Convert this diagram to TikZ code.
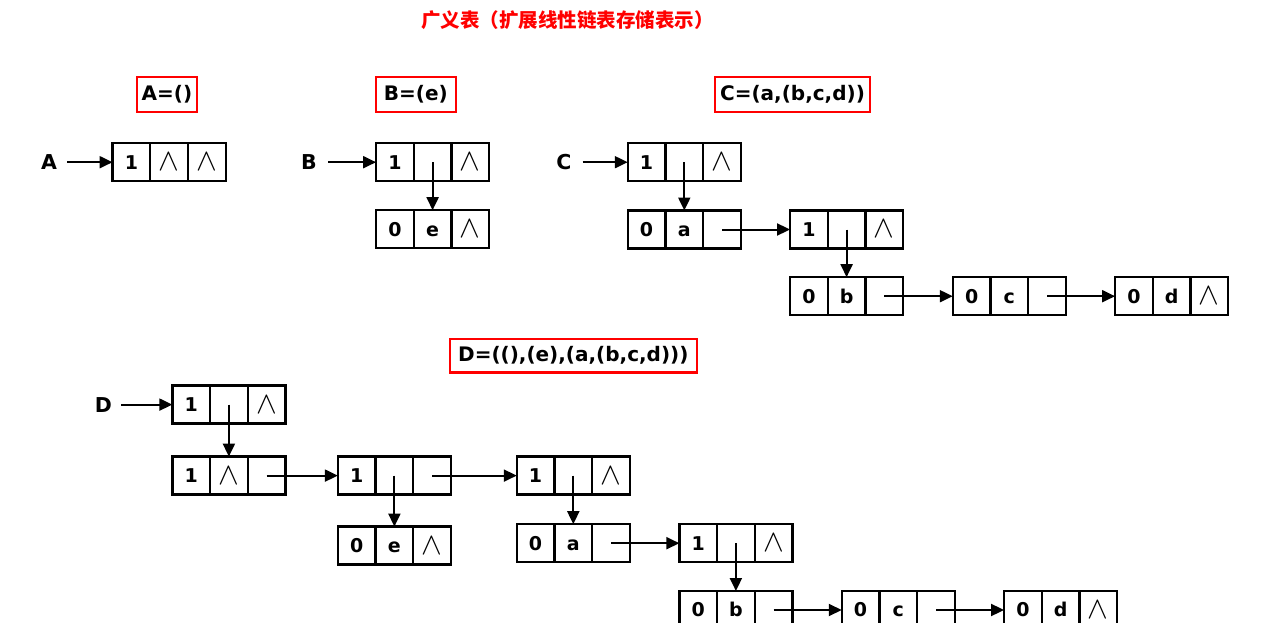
\documentclass[tikz,border=0pt]{standalone}
\usepackage{graphicx}
\usepackage{fontspec}
\setmainfont{DejaVu Sans}
\newfontfamily\cjkfont{Noto Sans CJK SC}
\usetikzlibrary{arrows.meta}
\newcommand{\nilsym}{\raisebox{-1.5pt}{\scalebox{1.25}{\fontsize{24.88}{24.88}\selectfont$\wedge$}}}
\newcommand{\lnode}[6]{%
  \node[cell] (#1a) at (#2,#3) {#4};
  \node[cell,anchor=west] (#1b) at (#1a.east) {#5};
  \node[cell,anchor=west] (#1c) at (#1b.east) {#6};}
\begin{document}
\begin{tikzpicture}[x=1pt,y=-1pt,
  cell/.style={draw,line width=2.3pt,minimum width=37.7pt,minimum height=38pt,
    inner sep=0pt,outer sep=0pt,font=\bfseries\fontsize{19}{19}\selectfont,
    text height=13.8pt,text depth=0pt},
  arr/.style={line width=2pt,-{Triangle[length=13pt,width=12pt]}},
  lbl/.style={inner sep=0pt,font=\bfseries\fontsize{20.5}{20.5}\selectfont,text height=15pt,text depth=0pt},
  redbox/.style={draw=red,line width=2.3pt,inner sep=0pt,minimum height=35pt,
    font=\bfseries\fontsize{20}{20}\selectfont,text height=14.6pt,text depth=4pt},
  title/.style={inner sep=0pt,text=red,font=\cjkfont\bfseries\fontsize{19.5}{19.5}\selectfont}]
\fill[white] (0,0) rectangle (1269,623);
\useasboundingbox (0,0) rectangle (1269,623);
\clip (0,0) rectangle (1269,623);

\node[title,anchor=west] (ttl) at (421,20) {广义表（扩展线性链表存储表示）};

% header boxes
\node[redbox,minimum width=59.4pt] (hA) at (167,94.8) {A=()};
\node[redbox,minimum width=79.7pt] (hB) at (415.8,94.8) {B=(e)};
\node[redbox,minimum width=155pt] (hC) at (792.5,94.8) {C=(a,(b,c,d))};
\node[redbox,minimum width=246.7pt,minimum height=33.3pt] (hD) at (573.3,355.7) {D=((),(e),(a,(b,c,d)))};

% A
\node[lbl] (lA) at (49,162.2) {A};
\lnode{A1}{131.4}{162.2}{1}{\nilsym}{\nilsym}
\draw[arr,shorten <=10pt] (lA.east) -- (A1a.west);

% B
\node[lbl] (lB) at (309,162.2) {B};
\lnode{B1}{394.9}{162.2}{1}{}{\nilsym}
\lnode{B2}{394.9}{229.2}{0}{e}{\nilsym}
\draw[arr,shorten <=11pt] (lB.east) -- (B1a.west);
\draw[arr] (B1b.center) -- (B2b.north);

% C
\node[lbl] (lC) at (564,162.2) {C};
\lnode{C1}{646.6}{162.2}{1}{}{\nilsym}
\lnode{C2}{646.6}{229.5}{0}{a}{}
\lnode{C3}{808.9}{229.5}{1}{}{\nilsym}
\lnode{C4}{808.9}{296.2}{0}{b}{}
\lnode{C5}{971.6}{296.2}{0}{c}{}
\lnode{C6}{1133.9}{296.2}{0}{d}{\nilsym}
\draw[arr,shorten <=11pt] (lC.east) -- (C1a.west);
\draw[arr] (C1b.center) -- (C2b.north);
\draw[arr] (C2c.center) -- (C3a.west);
\draw[arr] (C3b.center) -- (C4b.north);
\draw[arr] (C4c.center) -- (C5a.west);
\draw[arr] (C5c.center) -- (C6a.west);

% D
\node[lbl] (lD) at (103.3,404.6) {D};
\lnode{D1}{191.2}{404.6}{1}{}{\nilsym}
\lnode{D2}{191.2}{475.6}{1}{\nilsym}{}
\lnode{D3}{356.7}{475.6}{1}{}{}
\lnode{D4}{356.7}{545.6}{0}{e}{\nilsym}
\lnode{D5}{535.6}{475.6}{1}{}{\nilsym}
\lnode{D6}{535.6}{543.2}{0}{a}{}
\lnode{D7}{698.2}{543.2}{1}{}{\nilsym}
\lnode{D8}{698.2}{610}{0}{b}{}
\lnode{D9}{860.6}{610}{0}{c}{}
\lnode{D10}{1022.9}{610}{0}{d}{\nilsym}
\draw[arr,shorten <=9pt] (lD.east) -- (D1a.west);
\draw[arr] (D1b.center) -- (D2b.north);
\draw[arr] (D2c.center) -- (D3a.west);
\draw[arr] (D3b.center) -- (D4b.north);
\draw[arr] (D3c.center) -- (D5a.west);
\draw[arr] (D5b.center) -- (D6b.north);
\draw[arr] (D6c.center) -- (D7a.west);
\draw[arr] (D7b.center) -- (D8b.north);
\draw[arr] (D8c.center) -- (D9a.west);
\draw[arr] (D9c.center) -- (D10a.west);
\end{tikzpicture}
\end{document}
